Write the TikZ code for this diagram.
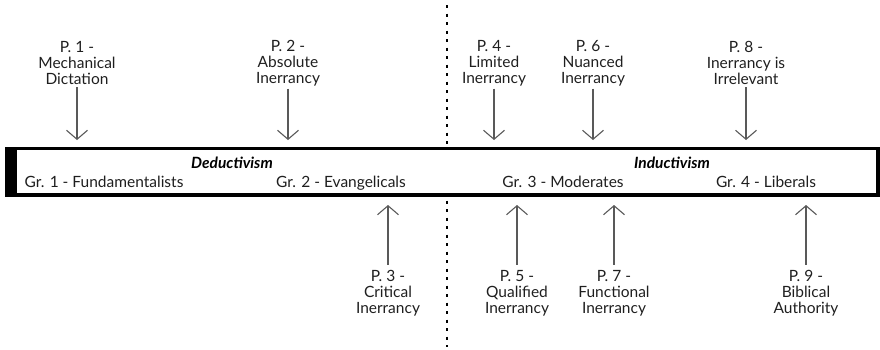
\documentclass[tikz,border=0pt]{standalone}
\usepackage{fontspec}
\setmainfont{Lato}
\usetikzlibrary{arrows.meta}
\tikzset{
  lbl/.style={align=center, inner sep=0pt, font=\fontsize{15.5}{16}\selectfont, text=black!88},
  grp/.style={inner sep=0pt, font=\fontsize{15.5}{16}\selectfont, anchor=base, text=black!88},
  ttl/.style={inner sep=0pt, font=\fontsize{15.5}{16}\selectfont\bfseries\itshape, anchor=base},
  parr/.style={draw=black!65, line width=1.1pt, -{Straight Barb[length=9pt,width=21pt,line width=1.1pt]}},
  divider/.style={line width=2.6pt, dash pattern=on 3.2pt off 5.3pt}
}
\begin{document}
\begin{tikzpicture}[x=1pt,y=-1pt]
\useasboundingbox (0,0) rectangle (880,349);
% divider
\coordinate (dtop) at (447,5);
\coordinate (dbot) at (447,347);
\draw[divider] (dtop) -- (dbot);
% bar
\fill[white] (6.5,148.5) rectangle (877.5,195);
\draw[line width=3.4pt] (6.5,148.5) rectangle (877.5,195);
\fill[black] (5,146.8) rectangle (17,196.7);
\fill[black] (876,146.8) rectangle (880,196.7);
% bar texts
\node[ttl] (ded) at (232,168) {Deductivism};
\node[ttl] (ind) at (672,168) {Inductivism};
\node[grp] (g1) at (104,187) {Gr. 1 - Fundamentalists};
\node[grp] (g2) at (341,187) {Gr. 2 - Evangelicals};
\node[grp] (g3) at (563,187) {Gr. 3 - Moderates};
\node[grp] (g4) at (766,187) {Gr. 4 - Liberals};
% top labels
\node[lbl] (p1) at (77,63) {P. 1 -\\Mechanical\\Dictation};
\node[lbl] (p2) at (288,63) {P. 2 -\\Absolute\\Inerrancy};
\node[lbl] (p4) at (494,63) {P. 4 -\\Limited\\Inerrancy};
\node[lbl] (p6) at (593,63) {P. 6 -\\Nuanced\\Inerrancy};
\node[lbl] (p8) at (746,63) {P. 8 -\\Inerrancy is\\Irrelevant};
% bottom labels
\node[lbl] (p3) at (388,293) {P. 3 -\\Critical\\Inerrancy};
\node[lbl] (p5) at (517,293) {P. 5 -\\Qualified\\Inerrancy};
\node[lbl] (p7) at (614,293) {P. 7 -\\Functional\\Inerrancy};
\node[lbl] (p9) at (806,293) {P. 9 -\\Biblical\\Authority};
% arrow tips
\coordinate (t1) at (77,140);
\coordinate (t2) at (288,140);
\coordinate (t4) at (494,140);
\coordinate (t6) at (593,140);
\coordinate (t8) at (746,140);
\coordinate (t3) at (388,205);
\coordinate (t5) at (517,205);
\coordinate (t7) at (614,205);
\coordinate (t9) at (806,205);
\foreach \n in {1,2,4,6,8} {
  \draw[parr] ([yshift=-2.5pt]p\n.south) -- (t\n);
}
\foreach \n in {3,5,7,9} {
  \draw[parr] ([yshift=5pt]p\n.north) -- (t\n);
}
\end{tikzpicture}
\end{document}
